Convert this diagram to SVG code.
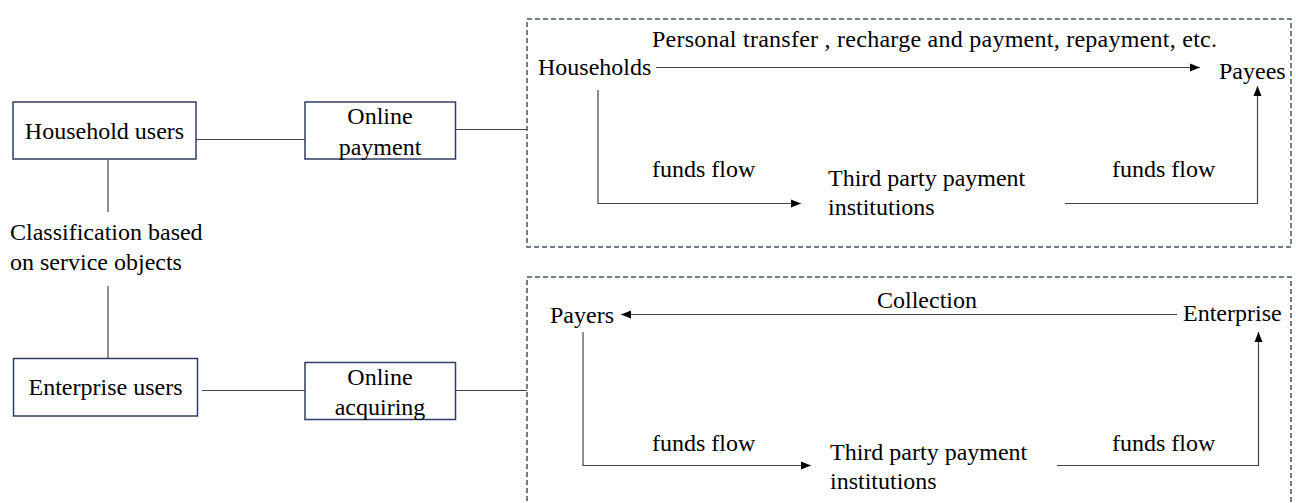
<svg xmlns="http://www.w3.org/2000/svg" width="1296" height="503" viewBox="0 0 1296 503">
<defs>
<style>
text{font-family:"Liberation Serif","Times New Roman",serif;font-size:24px;fill:#000}
.box{fill:#fff;stroke:#2F3F63;stroke-width:1.5}
.dash{fill:none;stroke:#44546A;stroke-width:1.5;stroke-dasharray:5 3}
.ln{fill:none;stroke:#444;stroke-width:1.2}
.c{text-anchor:middle}
</style>
<marker id="ah" viewBox="0 0 10 10" refX="10" refY="5" markerWidth="10" markerHeight="10" markerUnits="userSpaceOnUse" orient="auto">
<path d="M0,1 L10,5 L0,9 z" fill="#000"/>
</marker>
</defs>
<rect width="1296" height="503" fill="#fff"/>
<g id="connectors">
<line class="ln" x1="196" y1="139.5" x2="305" y2="139.5"/>
<line class="ln" x1="455.5" y1="129.5" x2="527" y2="129.5"/>
<line class="ln" x1="202" y1="390.5" x2="305" y2="390.5"/>
<line class="ln" x1="455.5" y1="390.5" x2="527" y2="390.5"/>
<line class="ln" x1="108" y1="160" x2="108" y2="212"/>
<line class="ln" x1="108" y1="286" x2="108" y2="358"/>
<line class="ln" x1="656" y1="67.5" x2="1200" y2="67.5" marker-end="url(#ah)"/>
<polyline class="ln" points="598,90 598,203.5 801,203.5" marker-end="url(#ah)"/>
<polyline class="ln" points="1065,203.5 1257.5,203.5 1257.5,86" marker-end="url(#ah)"/>
<line class="ln" x1="1177" y1="314.5" x2="621" y2="314.5" marker-end="url(#ah)"/>
<polyline class="ln" points="583,332 583,465.5 811,465.5" marker-end="url(#ah)"/>
<polyline class="ln" points="1057,465.5 1258.5,465.5 1258.5,332" marker-end="url(#ah)"/>
</g>
<g id="household-users"><rect class="box" x="13" y="102" width="183" height="57"/><text class="c" x="104.5" y="139">Household users</text></g>
<g id="online-payment"><rect class="box" x="305" y="102" width="150.5" height="57"/><text class="c" x="380" y="124">Online</text><text class="c" x="380" y="155">payment</text></g>
<g id="classification"><text x="10" y="240">Classification based</text><text x="10" y="270">on service objects</text></g>
<g id="enterprise-users"><rect class="box" x="13.5" y="358.5" width="184" height="57.5"/><text class="c" x="105.5" y="395">Enterprise users</text></g>
<g id="online-acquiring"><rect class="box" x="305" y="362.5" width="150.5" height="57"/><text class="c" x="380" y="385">Online</text><text class="c" x="380" y="415">acquiring</text></g>
<g id="household-flow">
<rect class="dash" x="527" y="19" width="764" height="228"/>
<text x="652" y="47" textLength="565" lengthAdjust="spacing">Personal transfer , recharge and payment, repayment, etc.</text>
<text x="538" y="75">Households</text>
<text x="1219" y="79">Payees</text>
<text x="652" y="177">funds flow</text>
<text x="828" y="186">Third party payment</text>
<text x="828" y="215">institutions</text>
<text x="1112" y="177">funds flow</text>
</g>
<g id="enterprise-flow">
<rect class="dash" x="527" y="277" width="764" height="240"/>
<text x="550" y="323">Payers</text>
<text x="877" y="308">Collection</text>
<text x="1183" y="321">Enterprise</text>
<text x="652" y="451">funds flow</text>
<text x="830" y="460">Third party payment</text>
<text x="830" y="489">institutions</text>
<text x="1112" y="451">funds flow</text>
</g>
</svg>
